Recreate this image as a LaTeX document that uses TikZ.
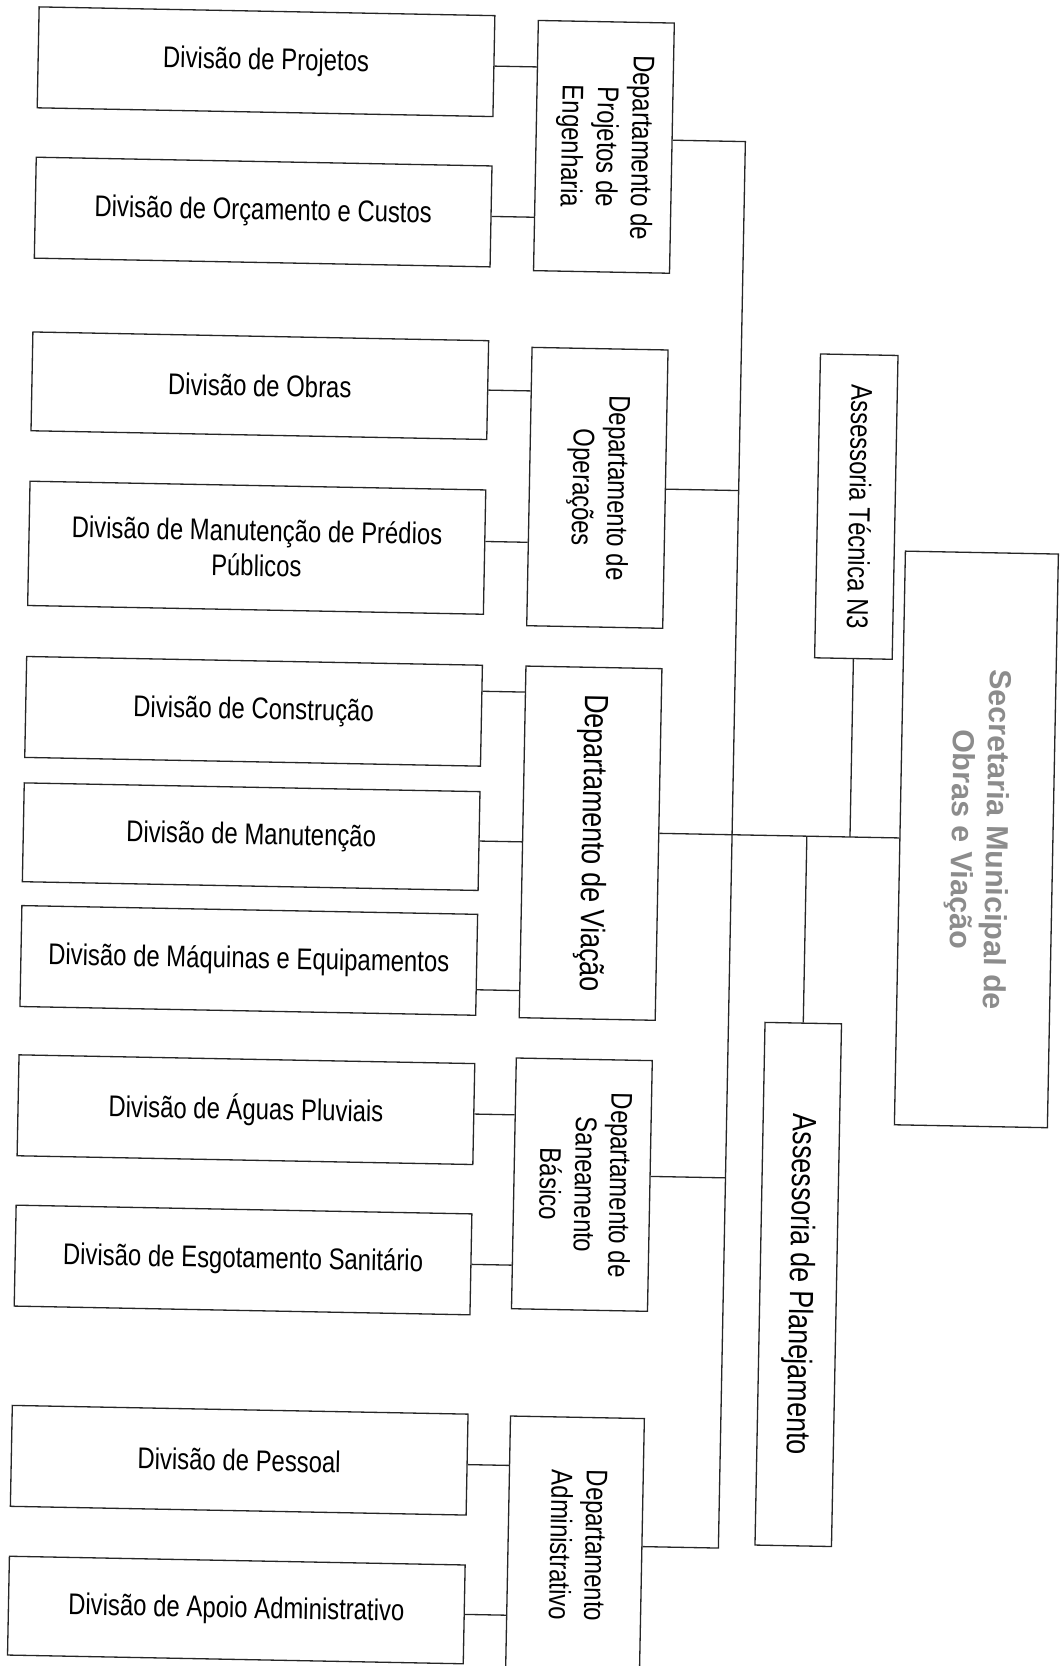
\documentclass[tikz,border=0pt]{standalone}
\usepackage{fontspec}
\usepackage{graphicx}
\setmainfont{Liberation Sans}[FakeStretch=0.8]
\newfontfamily\secFont{Liberation Sans}
\usetikzlibrary{positioning, calc}
\colorlet{drawColor}{black!85}
\colorlet{secColor}{black!45}
\tikzstyle{box}=[rectangle, draw=drawColor, line width=0.7pt, fill=white, inner sep=0pt, align=center]
\tikzstyle{divBox}=[box, minimum width=85.8mm, minimum height=19mm, font=\fontsize{16}{18.8}\selectfont]
\tikzstyle{depBox}=[box, minimum width=25.6mm, font=\fontsize{16}{18.8}\selectfont]
\tikzstyle{assBox}=[box, minimum width=14.6mm, font=\fontsize{16}{18.8}\selectfont]
\tikzstyle{secBox}=[box, minimum width=28.8mm, minimum height=108mm, text=secColor,
font=\secFont\bfseries\fontsize{16.3}{18.8}\selectfont]
\tikzstyle{link}=[draw=drawColor, line width=0.7pt]
\newcommand{\vertText}[1]{\rotatebox{-90}{\begin{tabular}{@{}c@{}}#1\end{tabular}}}

\begin{document}
\begin{tikzpicture}[x=0.2mm, y=-0.2mm]
  \useasboundingbox (0,0) rectangle (1000,1568);
  \begin{pgfscope}
  \pgflowlevel{\pgftransformshift{\pgfpoint{100mm}{-156.8mm}}\pgftransformrotate{-1.1}\pgftransformshift{\pgfpoint{-100mm}{156.8mm}}}
      \node(divProj) [divBox] at (236.5,63) {Divisão de Projetos};
      \node(divOrc) [divBox] at (236.5,204.5) {Divisão de Orçamento e Custos};
      \node(divObras) [divBox, minimum height=18.6mm] at (236.5,368) {Divisão de Obras};
      \node(divPredios) [divBox, minimum height=23.4mm] at (236.5,520.5) {Divisão de Manutenção de Prédios\\Públicos};
      \node(divConst) [divBox] at (236.5,674.5) {Divisão de Construção};
      \node(divManut) [divBox, minimum height=18.6mm] at (236.5,792.5) {Divisão de Manutenção};
      \node(divMaq) [divBox] at (236.5,909) {Divisão de Máquinas e Equipamentos};
      \node(divAguas) [divBox] at (236.5,1049.5) {Divisão de Águas Pluviais};
      \node(divEsgoto) [divBox] at (236.5,1191) {Divisão de Esgotamento Sanitário};
      \node(divPessoal) [divBox] at (236.5,1379.5) {Divisão de Pessoal};
      \node(divApoio) [divBox, minimum height=18.6mm] at (236.5,1520.5) {Divisão de Apoio Administrativo};

      \node(depEng) [depBox, minimum height=47.1mm] at (556,137) {\vertText{Departamento de\\Projetos de\\Engenharia}};
      \node(depOper) [depBox, minimum height=52.4mm] at (556,458) {\vertText{Departamento de\\Operações}};
      \node(depViacao) [depBox, minimum height=66.2mm, font=\fontsize{18}{21}\selectfont] at (556,792.5) {\vertText{Departamento de Viação}};
      \node(depSan) [depBox, minimum height=47.2mm] at (554,1114) {\vertText{Departamento de\\Saneamento\\Básico}};
      \node(depAdm) [depBox, minimum width=25.2mm, minimum height=48.2mm] at (554,1453.5) {\vertText{Departamento\\Administrativo}};

      \node(assTec) [assBox, minimum height=57.2mm] at (800,471) {\vertText{Assessoria Técnica N3}};
      \node(assPlan) [assBox, minimum width=14.4mm, minimum height=98.4mm, font=\fontsize{18}{21}\selectfont] at (759.4,1204) {\vertText{Assessoria de Planejamento}};
      \node(secretaria) [secBox] at (919,782) {\vertText{Secretaria Municipal de\\Obras e Viação}};

      \coordinate (trunk) at (689,0);
      \coordinate (cEng) at ([yshift=1.5mm]depEng.east);
      \coordinate (cSan) at ([yshift=1.8mm]depSan.east);
      \coordinate (cPredios) at ([yshift=2mm]divPredios.east);
      \coordinate (cConst) at ([yshift=4.6mm]divConst.east);
      \coordinate (cMaq) at ([yshift=-4.7mm]divMaq.east);

      \draw [link] (divProj.east) -- (divProj.east -| depEng.west);
      \draw [link] (divOrc.east) -- (divOrc.east -| depEng.west);
      \draw [link] (divObras.east) -- (divObras.east -| depOper.west);
      \draw [link] (cPredios) -- (cPredios -| depOper.west);
      \draw [link] (cConst) -- (cConst -| depViacao.west);
      \draw [link] (divManut.east) -- (divManut.east -| depViacao.west);
      \draw [link] (cMaq) -- (cMaq -| depViacao.west);
      \draw [link] (divAguas.east) -- (divAguas.east -| depSan.west);
      \draw [link] (divEsgoto.east) -- (divEsgoto.east -| depSan.west);
      \draw [link] (divPessoal.east) -- (divPessoal.east -| depAdm.west);
      \draw [link] (divApoio.east) -- (divApoio.east -| depAdm.west);

      \draw [link] (cEng) -- (cEng -| trunk) -- (depAdm.east -| trunk) -- (depAdm.east);
      \draw [link] (depOper.east) -- (depOper.east -| trunk);
      \draw [link] (cSan) -- (cSan -| trunk);
      \draw [link] (depViacao.east |- secretaria.west) -- (secretaria.west);
      \draw [link] (assTec.south) -- (assTec.south |- secretaria.west);
      \draw [link] (assPlan.north) -- (assPlan.north |- secretaria.west);
  \end{pgfscope}
\end{tikzpicture}
\end{document}
